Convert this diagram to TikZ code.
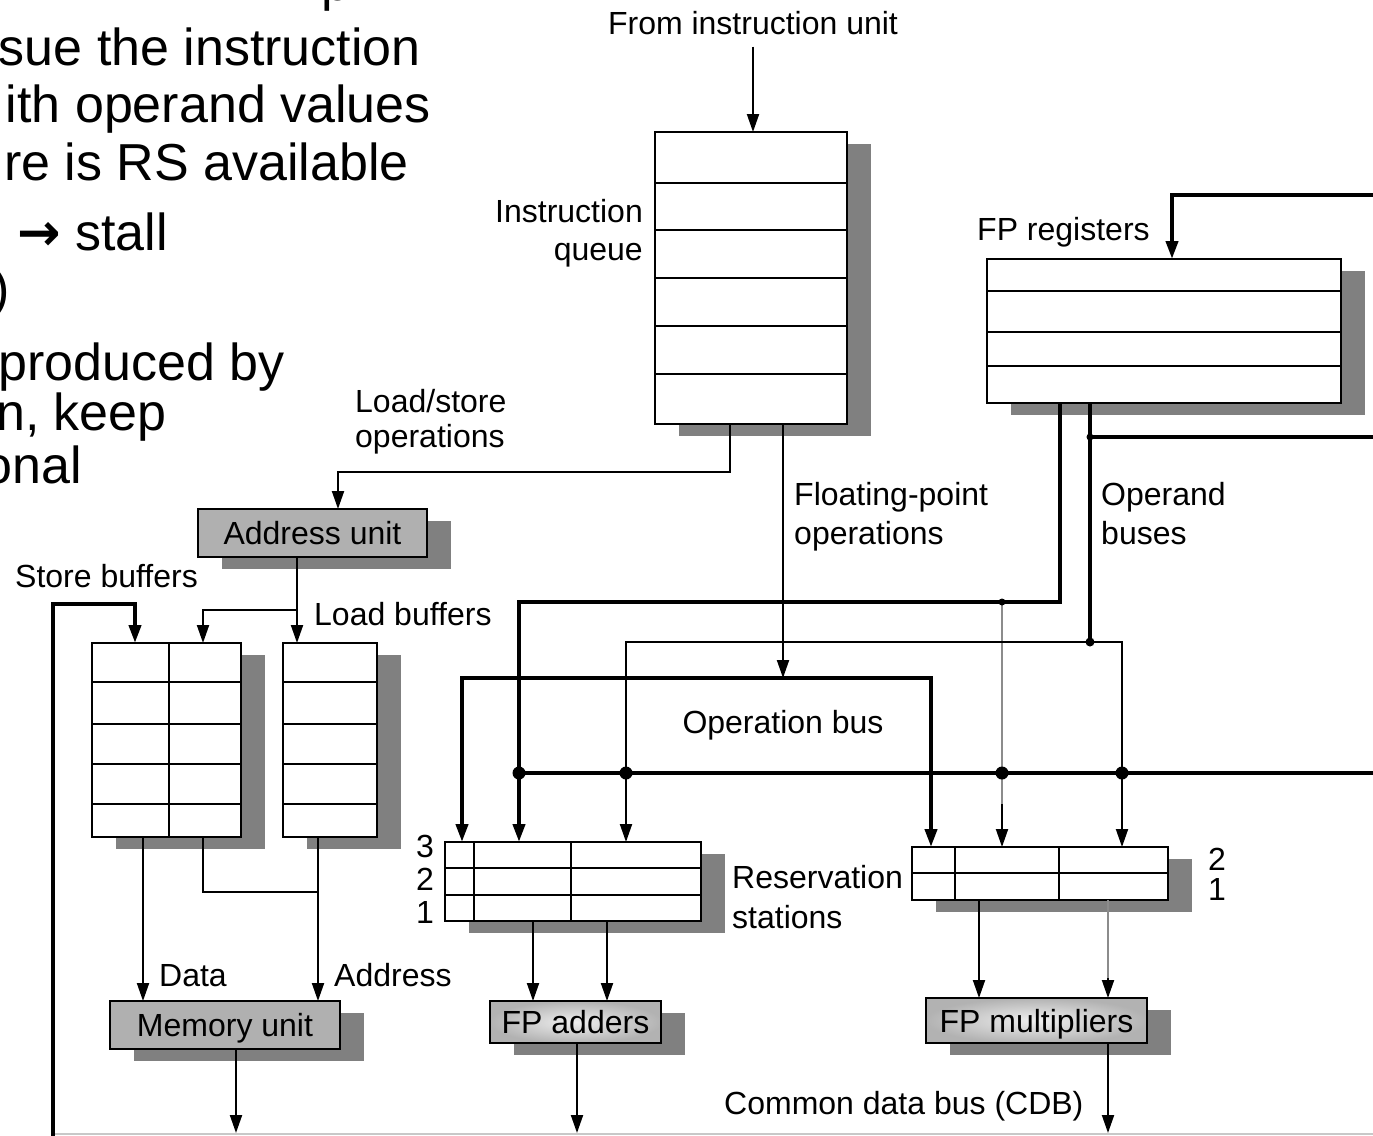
\documentclass[tikz,border=0pt]{standalone}
\usepackage{fontspec}
\setmainfont{Liberation Sans}
\newfontfamily\arrowfont{DejaVu Sans}
\usetikzlibrary{arrows.meta,calc,backgrounds}

\definecolor{shadowc}{HTML}{808080}
\definecolor{unitc}{HTML}{B0B0B0}
\definecolor{grayline}{HTML}{8C8C8C}
\definecolor{cdbc}{HTML}{C8C8C8}

\tikzset{
  thinl/.style={line width=2pt},
  thickl/.style={line width=4pt},
  boxl/.style={line width=2pt},
  tbl/.style={draw, fill=white, line width=2pt, inner sep=0pt, outer sep=0pt, anchor=north west},
  unit/.style={draw, fill=unitc, line width=2pt, inner sep=0pt, outer sep=0pt,
    text height=23pt, text depth=0pt, font=\fontsize{32}{38}\selectfont},
  funit/.style={draw, line width=2pt, inner sep=0pt, outer sep=0pt, shading=radial,
    inner color=black!6, outer color=black!30,
    text height=23pt, text depth=0pt, font=\fontsize{32}{38}\selectfont},
  lbl/.style={inner sep=0pt, font=\fontsize{32}{38}\selectfont},
  slide/.style={inner sep=0pt, font=\fontsize{52}{60}\selectfont},
  jdot/.style={fill=black},
  shad/.style={fill=shadowc}
}

\begin{document}
\begin{tikzpicture}[x=1pt,y=-1pt,>={Triangle[length=18pt,width=12pt]}]
\useasboundingbox (0,0) rectangle (1373,1135);

% ---- slide text (clipped at left/top, as in the reference) ----
\node[slide, anchor=base west] (s0) at (321,1) {p};
\node[slide, anchor=base east] (s1) at (421,65) {sue the instruction};
\node[slide, anchor=base east] (s2) at (431,122) {ith operand values};
\node[slide, anchor=base east] (s3) at (409,180) {re is RS available};
\node[slide, anchor=base east] (s4) at (168,250) {{\arrowfont\bfseries →} stall};
\node[slide, anchor=base east] (s5) at (10,306) {)};
\node[slide, anchor=base east] (s6) at (285,380) {produced by};
\node[slide, anchor=base east] (s7) at (167,430) {n, keep};
\node[slide, anchor=base east] (s8) at (82,483) {onal};

% ---- bottom CDB line (cut off) ----
\draw[line width=1.5pt, cdbc] (53,1134) -- (1380,1134);

% ---- tables ----
\node[tbl, minimum width=192pt, minimum height=292pt] (iq) at (655,132) {};
\foreach \yy in {183,230,278,326,374}
  \draw[boxl] (iq.west |- 0,\yy) -- (iq.east |- 0,\yy);

\node[tbl, minimum width=354pt, minimum height=144pt] (fpr) at (987,259) {};
\foreach \yy in {291,332,366}
  \draw[boxl] (fpr.west |- 0,\yy) -- (fpr.east |- 0,\yy);

\node[tbl, minimum width=149pt, minimum height=194pt] (sb) at (92,643) {};
\foreach \yy in {682,724,764,804}
  \draw[boxl] (sb.west |- 0,\yy) -- (sb.east |- 0,\yy);
\draw[boxl] (169,0 |- sb.north) -- (169,0 |- sb.south);

\node[tbl, minimum width=94pt, minimum height=194pt] (lb) at (283,643) {};
\foreach \yy in {682,724,764,804}
  \draw[boxl] (lb.west |- 0,\yy) -- (lb.east |- 0,\yy);

\node[tbl, minimum width=256pt, minimum height=79pt] (ars) at (445,842) {};
\foreach \yy in {868,895}
  \draw[boxl] (ars.west |- 0,\yy) -- (ars.east |- 0,\yy);
\foreach \xx in {474,571}
  \draw[boxl] (\xx,0 |- ars.north) -- (\xx,0 |- ars.south);

\node[tbl, minimum width=256pt, minimum height=53pt] (mrs) at (912,847) {};
\draw[boxl] (mrs.west |- 0,873) -- (mrs.east |- 0,873);
\foreach \xx in {955,1059}
  \draw[boxl] (\xx,0 |- mrs.north) -- (\xx,0 |- mrs.south);

% ---- units ----
\node[unit, minimum width=229pt, minimum height=48pt] (au) at (312.5,533) {Address unit};
\node[unit, minimum width=230pt, minimum height=48pt] (mu) at (225,1025) {Memory unit};
\node[funit, minimum width=171pt, minimum height=42pt] (fpa) at (575.5,1022) {FP adders};
\node[funit, minimum width=221pt, minimum height=45pt] (fpm) at (1036.5,1020.5) {FP multipliers};

% ---- shadows ----
\begin{scope}[on background layer]
  \foreach \n in {iq,fpr,sb,lb,ars,mrs,au,mu,fpa,fpm}
    \fill[shad] ($(\n.north west)+(24,12)$) rectangle ($(\n.south east)+(24,12)$);
\end{scope}

% ---- labels ----
\node[lbl, anchor=base] (fiu) at (753,34) {From instruction unit};
\node[lbl, anchor=base east] (iql1) at (643,222) {Instruction};
\node[lbl, anchor=base east] (iql2) at (643,260) {queue};
\node[lbl, anchor=base west] (fprl) at (977,240) {FP registers};
\node[lbl, anchor=base west] (lsl1) at (355,412) {Load/store};
\node[lbl, anchor=base west] (lsl2) at (355,447) {operations};
\node[lbl, anchor=base west] (fpol1) at (794,505) {Floating-point};
\node[lbl, anchor=base west] (fpol2) at (794,544) {operations};
\node[lbl, anchor=base west] (obl1) at (1101,505) {Operand};
\node[lbl, anchor=base west] (obl2) at (1101,544) {buses};
\node[lbl, anchor=base west] (sbl) at (15,587) {Store buffers};
\node[lbl, anchor=base west] (lbl) at (314,625) {Load buffers};
\node[lbl, anchor=base] (opb) at (783,733) {Operation bus};
\node[lbl, anchor=base west] (rsl1) at (732,888) {Reservation};
\node[lbl, anchor=base west] (rsl2) at (732,928) {stations};
\node[lbl, anchor=base west] (datal) at (159,986) {Data};
\node[lbl, anchor=base west] (addrl) at (334,986) {Address};
\node[lbl, anchor=base west] (cdbl) at (724,1114) {Common data bus (CDB)};
\node[lbl, anchor=base] (a3) at (425,857) {3};
\node[lbl, anchor=base] (a2) at (425,890) {2};
\node[lbl, anchor=base] (a1) at (425,923) {1};
\node[lbl, anchor=base] (m2) at (1217,870) {2};
\node[lbl, anchor=base] (m1) at (1217,900) {1};

% ---- connectors ----
\coordinate (obL) at (462,678);
\coordinate (obR) at (931,678);
\draw[thinl,->] ($(fiu.south)+(0,12)$) -- (fiu.south |- iq.north);
\draw[thinl,->] (730,0 |- iq.south) -- (730,472) -- (338,472) -- (338,0 |- au.north);
\draw[thinl,->] (783,0 |- iq.south) -- (783,0 |- obL);
\draw[thickl,<->] (462,0 |- ars.north) -- (obL) -- (obR) -- (931,0 |- mrs.north);

\draw[thickl,->] (1060,0 |- fpr.south) -- (1060,602) -- (519,602) -- (519,0 |- ars.north);
\draw[thinl,grayline] (1002,602) -- (1002,808);
\draw[thinl,->] (1002,804) -- (1002,0 |- mrs.north);
\draw[thickl] (1090,0 |- fpr.south) -- (1090,642);
\draw[thinl,->] (1090,642) -- (626,642) -- (626,0 |- ars.north);
\draw[thinl,->] (1090,642) -- (1122,642) -- (1122,0 |- mrs.north);
\draw[thickl] (1090,437) -- (1380,437);
\draw[thickl,->] (1380,195) -- (1172,195) -- (1172,0 |- fpr.north);
\draw[thickl] (519,773) -- (1380,773);
\foreach \xx in {519,626,1002,1122} \fill[jdot] (\xx,773) circle (6.5pt);
\fill[jdot] (1090,437) circle (3.5pt);
\fill[jdot] (1002,602) circle (3.5pt);
\fill[jdot] (1090,642) circle (4.5pt);

\draw[thinl,->] (297,0 |- au.south) -- (297,0 |- lb.north);
\draw[thinl,->] (297,610) -- (203,610) -- (203,0 |- sb.north);
\draw[thickl,->] (53,1140) -- (53,604) -- (135,604) -- (135,0 |- sb.north);
\draw[thinl,->] (143,0 |- sb.south) -- (143,0 |- mu.north);
\draw[thinl] (203,0 |- sb.south) -- (203,892) -- (318,892);
\draw[thinl,->] (318,0 |- lb.south) -- (318,0 |- mu.north);

\draw[thinl,->] (533,0 |- ars.south) -- (533,0 |- fpa.north);
\draw[thinl,->] (607,0 |- ars.south) -- (607,0 |- fpa.north);
\draw[thinl,->] (979,0 |- mrs.south) -- (979,0 |- fpm.north);
\draw[thinl,grayline] (1108,0 |- mrs.south) -- (1108,985);
\draw[thinl,->] (1108,978) -- (1108,0 |- fpm.north);

\draw[thinl,->] (236,0 |- mu.south) -- (236,1133);
\draw[thinl,->] (577,0 |- fpa.south) -- (577,1133);
\draw[thinl,->] (1108,0 |- fpm.south) -- (1108,1133);
\end{tikzpicture}
\end{document}
